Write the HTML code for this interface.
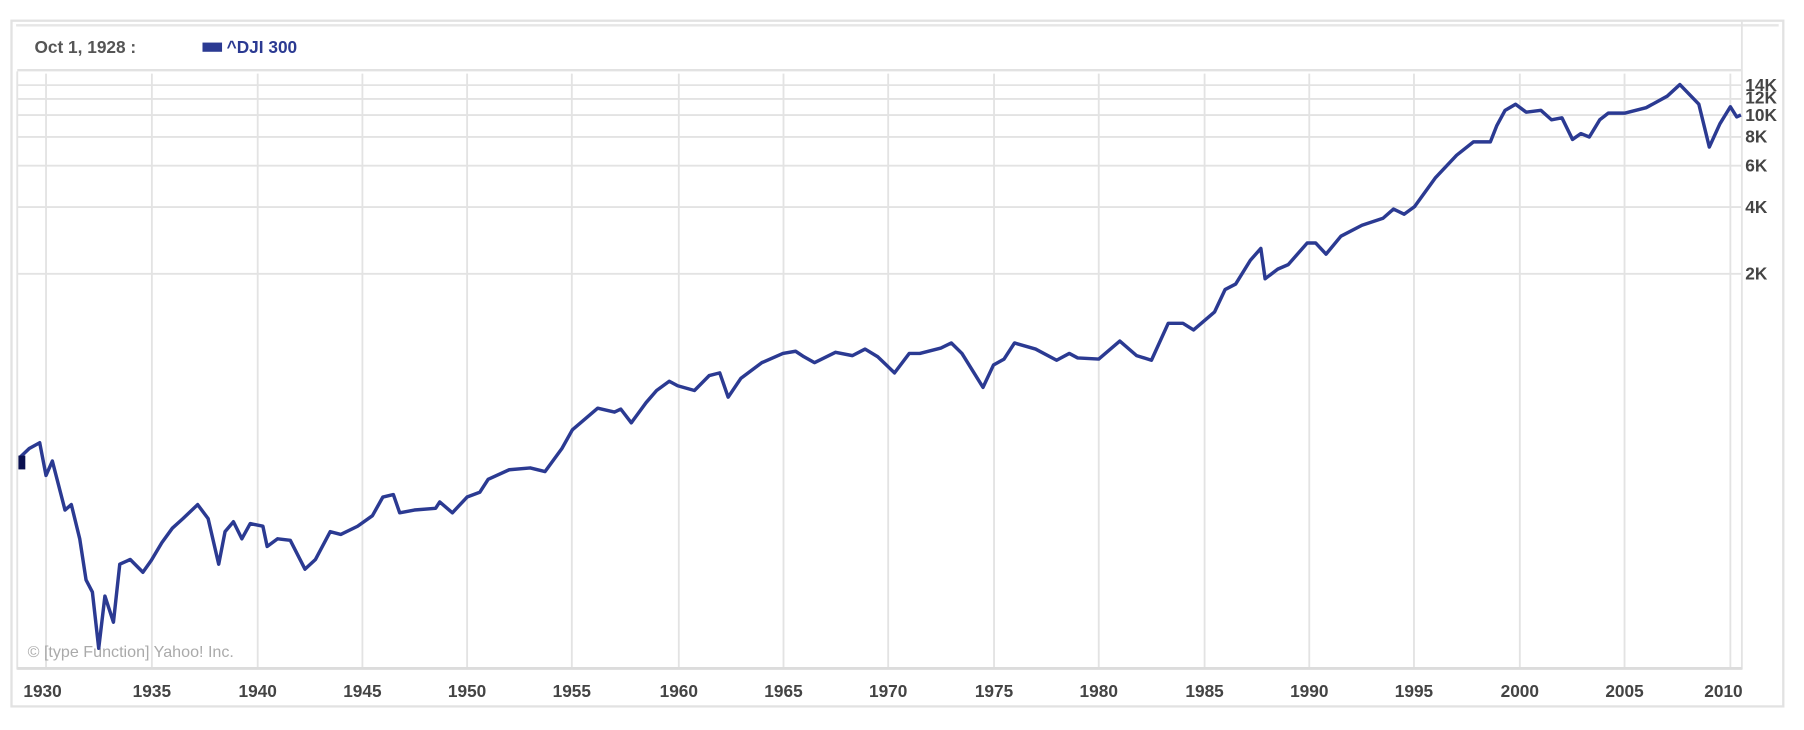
<!DOCTYPE html>
<html><head><meta charset="utf-8"><style>
html,body{margin:0;padding:0;background:#fff;}
svg{display:block}
</style></head><body>
<svg width="1804" height="730" viewBox="0 0 1568 634.5" preserveAspectRatio="none" xmlns="http://www.w3.org/2000/svg">
<rect x="0" y="0" width="1568" height="634.5" fill="#fff"/>
<rect x="10" y="18" width="1540" height="596" fill="#fff" stroke="#e2e2e2" stroke-width="2"/>
<line x1="14" y1="22" x2="1546" y2="22" stroke="#e6e6e6" stroke-width="2"/>
<text x="30" y="46" font-family="Liberation Sans, sans-serif" font-weight="bold" font-size="15" fill="#555">Oct 1, 1928 :</text>
<rect x="176" y="37" width="17" height="8" fill="#2b3a92"/>
<text x="197" y="46" font-family="Liberation Sans, sans-serif" font-weight="bold" font-size="15" fill="#2b3a92">^DJI 300</text>
<line x1="15" y1="61" x2="1514" y2="61" stroke="#e2e2e2" stroke-width="2"/>
<g stroke="#e3e3e3" stroke-width="1.6">
<line x1="15" y1="74" x2="1514" y2="74"/><line x1="15" y1="86" x2="1514" y2="86"/>
<line x1="15" y1="100" x2="1514" y2="100"/><line x1="15" y1="119" x2="1514" y2="119"/>
<line x1="15" y1="144" x2="1514" y2="144"/><line x1="15" y1="180" x2="1514" y2="180"/>
<line x1="15" y1="238" x2="1514" y2="238"/>
<line x1="40" y1="64" x2="40" y2="580"/><line x1="132" y1="64" x2="132" y2="580"/>
<line x1="224" y1="64" x2="224" y2="580"/><line x1="315" y1="64" x2="315" y2="580"/>
<line x1="406" y1="64" x2="406" y2="580"/><line x1="497" y1="64" x2="497" y2="580"/>
<line x1="590" y1="64" x2="590" y2="580"/><line x1="681" y1="64" x2="681" y2="580"/>
<line x1="772" y1="64" x2="772" y2="580"/><line x1="864" y1="64" x2="864" y2="580"/>
<line x1="955" y1="64" x2="955" y2="580"/><line x1="1047" y1="64" x2="1047" y2="580"/>
<line x1="1138" y1="64" x2="1138" y2="580"/><line x1="1229" y1="64" x2="1229" y2="580"/>
<line x1="1321" y1="64" x2="1321" y2="580"/><line x1="1412" y1="64" x2="1412" y2="580"/>
<line x1="1504" y1="64" x2="1504" y2="580"/>
<line x1="15" y1="62" x2="15" y2="582"/><line x1="1514" y1="18" x2="1514" y2="582"/>
</g>
<line x1="15" y1="581" x2="1514" y2="581" stroke="#dcdcdc" stroke-width="2.5"/>
<text x="24" y="571" font-family="Liberation Sans, sans-serif" font-size="14" fill="#aaa">© [type Function] Yahoo! Inc.</text>
<g font-family="Liberation Sans, sans-serif" font-weight="bold" font-size="15" fill="#444">
<text x="1517" y="79">14K</text><text x="1517" y="90">12K</text><text x="1517" y="105">10K</text>
<text x="1517" y="124">8K</text><text x="1517" y="149">6K</text><text x="1517" y="185">4K</text><text x="1517" y="243">2K</text>
</g>
<g font-family="Liberation Sans, sans-serif" font-weight="bold" font-size="15" fill="#444" text-anchor="middle">
<text x="37" y="606">1930</text><text x="132" y="606">1935</text><text x="224" y="606">1940</text>
<text x="315" y="606">1945</text><text x="406" y="606">1950</text><text x="497" y="606">1955</text>
<text x="590" y="606">1960</text><text x="681" y="606">1965</text><text x="772" y="606">1970</text>
<text x="864" y="606">1975</text><text x="955" y="606">1980</text><text x="1047" y="606">1985</text>
<text x="1138" y="606">1990</text><text x="1229" y="606">1995</text><text x="1321" y="606">2000</text>
<text x="1412" y="606">2005</text><text x="1498" y="606">2010</text>
</g>
<polyline fill="none" stroke="#2b3a92" stroke-width="3" stroke-linejoin="round" points="17.1,397.8 25.4,389.8 34.5,384.8 40,413.2 45.5,400.7 56.5,443.3 62,438.6 69.3,468.3 74.8,504.1 80.3,514.6 85.8,563.5 91.2,518.1 98.6,540.8 104.1,490.4 113.2,486.3 124.2,497.4 131.5,487.1 140.7,471.6 149.8,459.1 159,450.8 171.8,438.6 180.9,450.8 190.1,490.4 195.6,462.1 202.9,453.5 210.2,468.3 217.5,455.1 228.5,457.4 232.2,475 241.3,468.3 252.3,469.6 265.1,494.7 274.2,486.3 287,462.1 296.2,464.5 310.8,457.4 323.7,448.2 332.8,432 341.9,429.9 347.4,445.7 360.2,443.3 378.6,441.8 382.2,436.3 393.2,445.7 406,432 417,427.9 424.3,416.6 442.6,408.3 460.9,406.7 473.7,409.9 488.4,389.8 497.5,373.6 519.5,354.8 534.1,358.2 539.6,355.6 548.7,367.5 561.6,349.9 570.7,339.4 581.7,331.4 589,335.3 603.6,339.4 616.5,326.4 625.6,324.1 632.9,345.2 643.9,328.9 662.2,315.2 680.5,307.2 691.5,305.3 698.8,310.1 707.9,315.2 726.2,306.2 740.9,309.1 751.9,303.4 762.9,310.1 777.5,324.1 790.3,307.2 799.5,307.2 817.8,302.5 826.9,298.1 836.1,307.2 854.4,336.7 863.5,317.3 872.7,312.1 881.8,298.1 900.1,303.4 918.4,313.1 929.4,307.2 936.7,311.1 955,312.1 973.3,296.4 987.9,309.1 1000.8,313.1 1015.4,281 1028.2,281 1037.4,286.8 1055.7,271.1 1064.8,251.7 1074,246.9 1086.8,226.2 1095.9,215.9 1099.6,242.3 1110.6,233.9 1119.7,230 1136.2,211.2 1143.5,211.2 1152.6,220.9 1165.5,205.3 1183.8,195.8 1202.1,189.7 1211.2,181.7 1220.4,186.2 1229.5,179.6 1247.8,154.3 1266.1,134.9 1280.7,123.3 1295.4,123.3 1300.9,109.4 1308.2,95.9 1317.3,90.6 1326.5,97.5 1339.3,95.9 1348.5,104.1 1357.6,102.4 1366.8,121.2 1374.1,116.1 1381.4,119.1 1390.5,104.1 1397.9,98.3 1412.5,98.3 1430.8,93.6 1449.1,83.6 1460.1,73.5 1476.6,90.6 1485.7,127.8 1494.9,107.6 1504,92.8 1509.5,101.6 1513.2,99.9"/>
<rect x="16" y="396" width="6" height="12" fill="#0a1050"/>
</svg>
</body></html>
